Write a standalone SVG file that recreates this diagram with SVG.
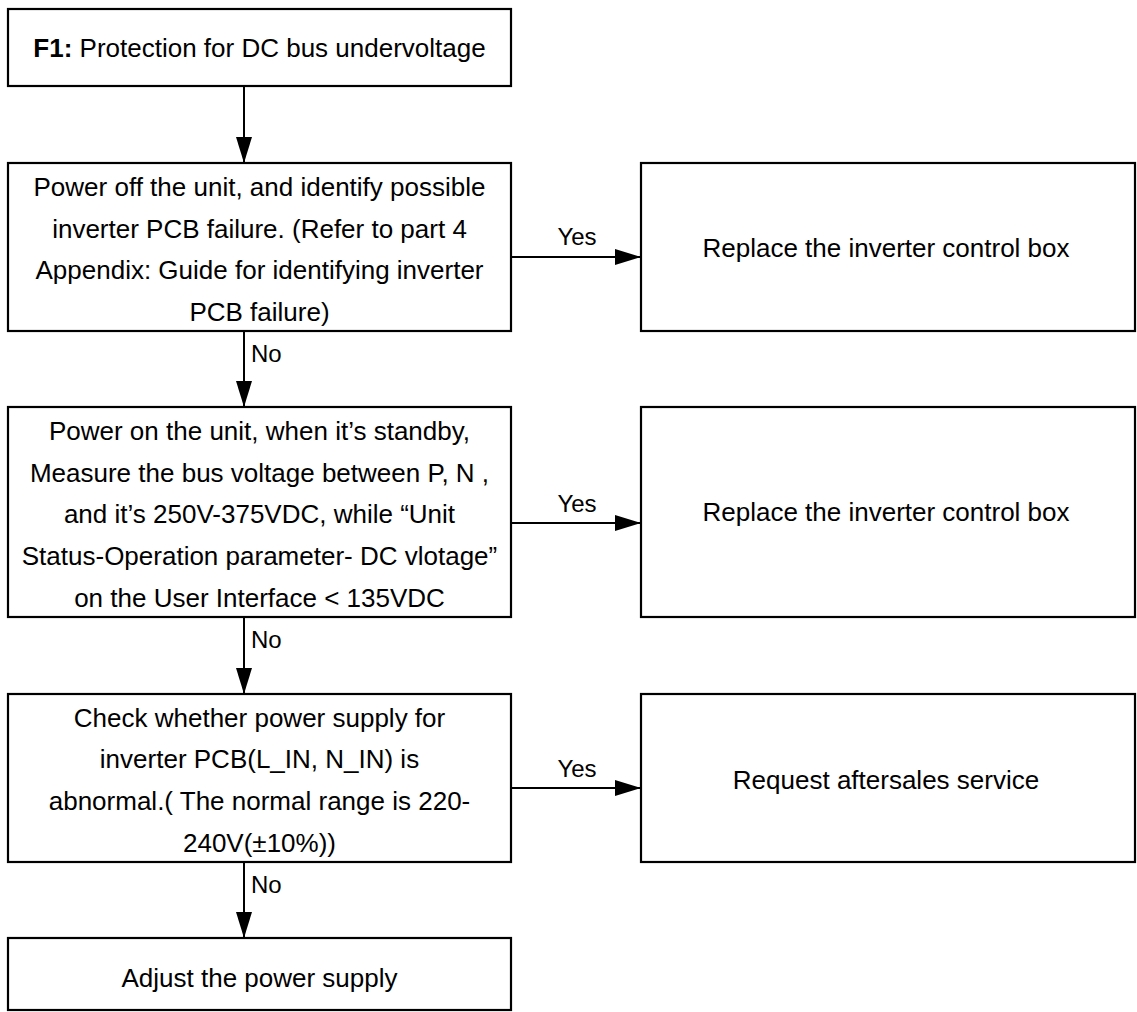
<svg xmlns="http://www.w3.org/2000/svg" width="1137" height="1012" viewBox="0 0 1137 1012">
<style>
.box{fill:#fff;stroke:#000;stroke-width:2.2}
.t{font-family:"Liberation Sans",Arial,sans-serif;font-size:26px;fill:#000;text-anchor:middle}
.lbl{font-family:"Liberation Sans",Arial,sans-serif;font-size:24px;fill:#000}
.c{stroke:#000;stroke-width:2;fill:none}
</style>
<defs>
<marker id="ah" viewBox="0 0 26 16" refX="26" refY="8" markerWidth="26" markerHeight="16" markerUnits="userSpaceOnUse" orient="auto">
<path d="M0,0 L26,8 L0,16 Z" fill="#000"/>
</marker>
</defs>
<rect width="1137" height="1012" fill="#fff"/>
<g id="connectors">
<line class="c" x1="244" y1="86" x2="244" y2="163" marker-end="url(#ah)"/>
<line class="c" x1="511" y1="257" x2="641" y2="257" marker-end="url(#ah)"/>
<line class="c" x1="244" y1="331" x2="244" y2="407" marker-end="url(#ah)"/>
<line class="c" x1="511" y1="523" x2="641" y2="523" marker-end="url(#ah)"/>
<line class="c" x1="244" y1="617" x2="244" y2="694" marker-end="url(#ah)"/>
<line class="c" x1="511" y1="788" x2="641" y2="788" marker-end="url(#ah)"/>
<line class="c" x1="244" y1="862" x2="244" y2="938" marker-end="url(#ah)"/>
<text class="lbl" x="577" y="245" text-anchor="middle">Yes</text>
<text class="lbl" x="577" y="512" text-anchor="middle">Yes</text>
<text class="lbl" x="577" y="777" text-anchor="middle">Yes</text>
<text class="lbl" x="251" y="362">No</text>
<text class="lbl" x="251" y="648">No</text>
<text class="lbl" x="251" y="893">No</text>
</g>
<g id="n1">
<rect class="box" x="8" y="9" width="503" height="77"/>
<text class="t" x="259.5" y="57"><tspan font-weight="bold">F1:</tspan> Protection for DC bus undervoltage</text>
</g>
<g id="n2">
<rect class="box" x="8" y="163" width="503" height="168"/>
<text class="t" x="259.5" y="196">Power off the unit, and identify possible</text>
<text class="t" x="259.5" y="238">inverter PCB failure. (Refer to part 4</text>
<text class="t" x="259.5" y="279">Appendix: Guide for identifying inverter</text>
<text class="t" x="259.5" y="321">PCB failure)</text>
</g>
<g id="n3">
<rect class="box" x="641" y="163" width="494" height="168"/>
<text class="t" x="886" y="257">Replace the inverter control box</text>
</g>
<g id="n4">
<rect class="box" x="8" y="407" width="503" height="210"/>
<text class="t" x="259.5" y="440">Power on the unit, when it’s standby,</text>
<text class="t" x="259.5" y="482">Measure the bus voltage between P, N ,</text>
<text class="t" x="259.5" y="523">and it’s 250V-375VDC, while “Unit</text>
<text class="t" x="259.5" y="565">Status-Operation parameter- DC vlotage”</text>
<text class="t" x="259.5" y="607">on the User Interface &lt; 135VDC</text>
</g>
<g id="n5">
<rect class="box" x="641" y="407" width="494" height="210"/>
<text class="t" x="886" y="521">Replace the inverter control box</text>
</g>
<g id="n6">
<rect class="box" x="8" y="694" width="503" height="168"/>
<text class="t" x="259.5" y="727">Check whether power supply for</text>
<text class="t" x="259.5" y="768">inverter PCB(L_IN, N_IN) is</text>
<text class="t" x="259.5" y="810">abnormal.( The normal range is 220-</text>
<text class="t" x="259.5" y="852">240V(±10%))</text>
</g>
<g id="n7">
<rect class="box" x="641" y="694" width="494" height="168"/>
<text class="t" x="886" y="789">Request aftersales service</text>
</g>
<g id="n8">
<rect class="box" x="8" y="938" width="503" height="72"/>
<text class="t" x="259.5" y="987">Adjust the power supply</text>
</g>
</svg>
